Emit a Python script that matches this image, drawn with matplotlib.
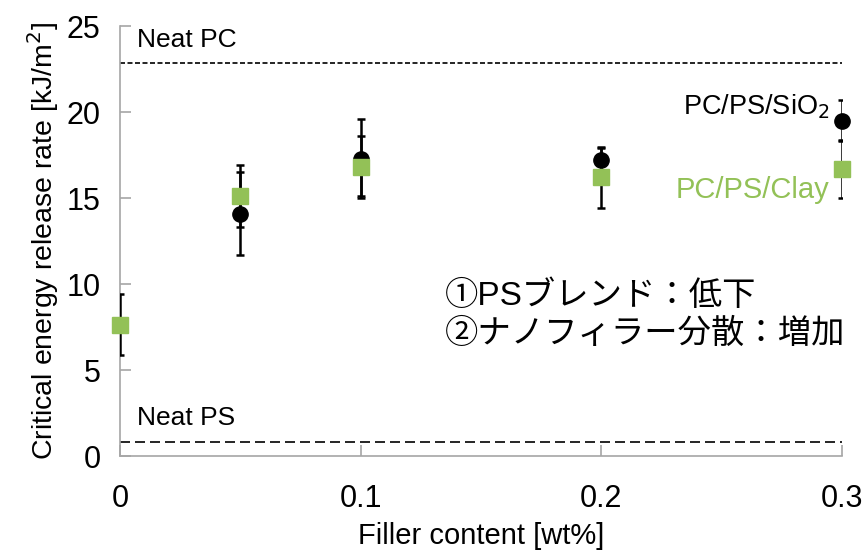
import numpy as np
import matplotlib
matplotlib.use("Agg")
import matplotlib.pyplot as plt

plt.rcParams['font.family'] = ['Liberation Sans', 'Noto Sans CJK JP', 'DejaVu Sans']

# filler content [wt%]
x_sio2 = [0.05, 0.1, 0.2, 0.3]
y_sio2 = [14.1, 17.3, 17.2, 19.5]
lo_sio2 = [11.7, 15.0, 16.5, 18.3]
hi_sio2 = [16.5, 19.6, 17.9, 20.7]

x_clay = [0.0, 0.05, 0.1, 0.2, 0.3]
y_clay = [7.6, 15.1, 16.8, 16.2, 16.7]
lo_clay = [5.9, 13.3, 15.1, 14.4, 15.0]
hi_clay = [9.4, 16.9, 18.6, 18.0, 18.4]

neat_pc = 22.85
neat_ps = 0.83

xticks = [0, 0.1, 0.2, 0.3]
xticklabels = ['0', '0.1', '0.2', '0.3']
yticks = [0, 5, 10, 15, 20, 25]

green = '#93C157'
gray = '#A6A6A6'

fig = plt.figure(figsize=(8.66, 5.55), dpi=100)
ax = fig.add_axes([0.1386, 0.178, 0.8334, 0.775])

ax.axhline(neat_pc, color='black', linestyle=(0, (3, 1.5)), linewidth=1.2)
ax.axhline(neat_ps, color='black', linestyle=(0, (6, 3)), linewidth=1.2)

err_c = [np.array(y_clay) - np.array(lo_clay), np.array(hi_clay) - np.array(y_clay)]
err_s = [np.array(y_sio2) - np.array(lo_sio2), np.array(hi_sio2) - np.array(y_sio2)]

ax.errorbar(x_clay, y_clay, yerr=err_c, fmt='none', ecolor='black',
            elinewidth=1.8, capsize=3, capthick=1.8, zorder=3)
ax.errorbar(x_sio2, y_sio2, yerr=err_s, fmt='none', ecolor='black',
            elinewidth=1.8, capsize=3, capthick=1.8, zorder=3)
ax.plot(x_sio2, y_sio2, 'o', color='black', markersize=11, zorder=4, clip_on=False)
ax.plot(x_clay, y_clay, 's', color=green, markersize=12, zorder=5, clip_on=False)

ax.set_xlim(0, 0.3)
ax.set_ylim(0, 25)
ax.set_xticks(xticks)
ax.set_xticklabels(xticklabels)
ax.set_yticks(yticks)

for side in ['top', 'right']:
    ax.spines[side].set_visible(False)
for side in ['left', 'bottom']:
    ax.spines[side].set_color(gray)
    ax.spines[side].set_linewidth(1.2)
ax.tick_params(axis='both', direction='in', color=gray, length=8, width=1.2,
               labelsize=22, pad=14)
ax.tick_params(axis='x', pad=20)

ax.set_xlabel('Filler content [wt%]', fontsize=21, labelpad=6)
ax.set_ylabel('Critical energy release rate [kJ/m$^2$]', fontsize=20.5, labelpad=4)

ax.text(0.007, 23.5, 'Neat PC', fontsize=19, ha='left', va='bottom')
ax.text(0.007, 1.55, 'Neat PS', fontsize=19, ha='left', va='bottom')
ax.text(0.295, 20.3, 'PC/PS/SiO$_2$', fontsize=19.5, ha='right', va='center')
ax.text(0.295, 15.5, 'PC/PS/Clay', fontsize=21, ha='right', va='center', color=green)

ax.text(0.135, 9.3, '①PSブレンド：低下', fontsize=24, ha='left', va='center')
ax.text(0.135, 7.1, '②ナノフィラー分散：増加', fontsize=24, ha='left', va='center')

fig.savefig('out.png', dpi=100)
